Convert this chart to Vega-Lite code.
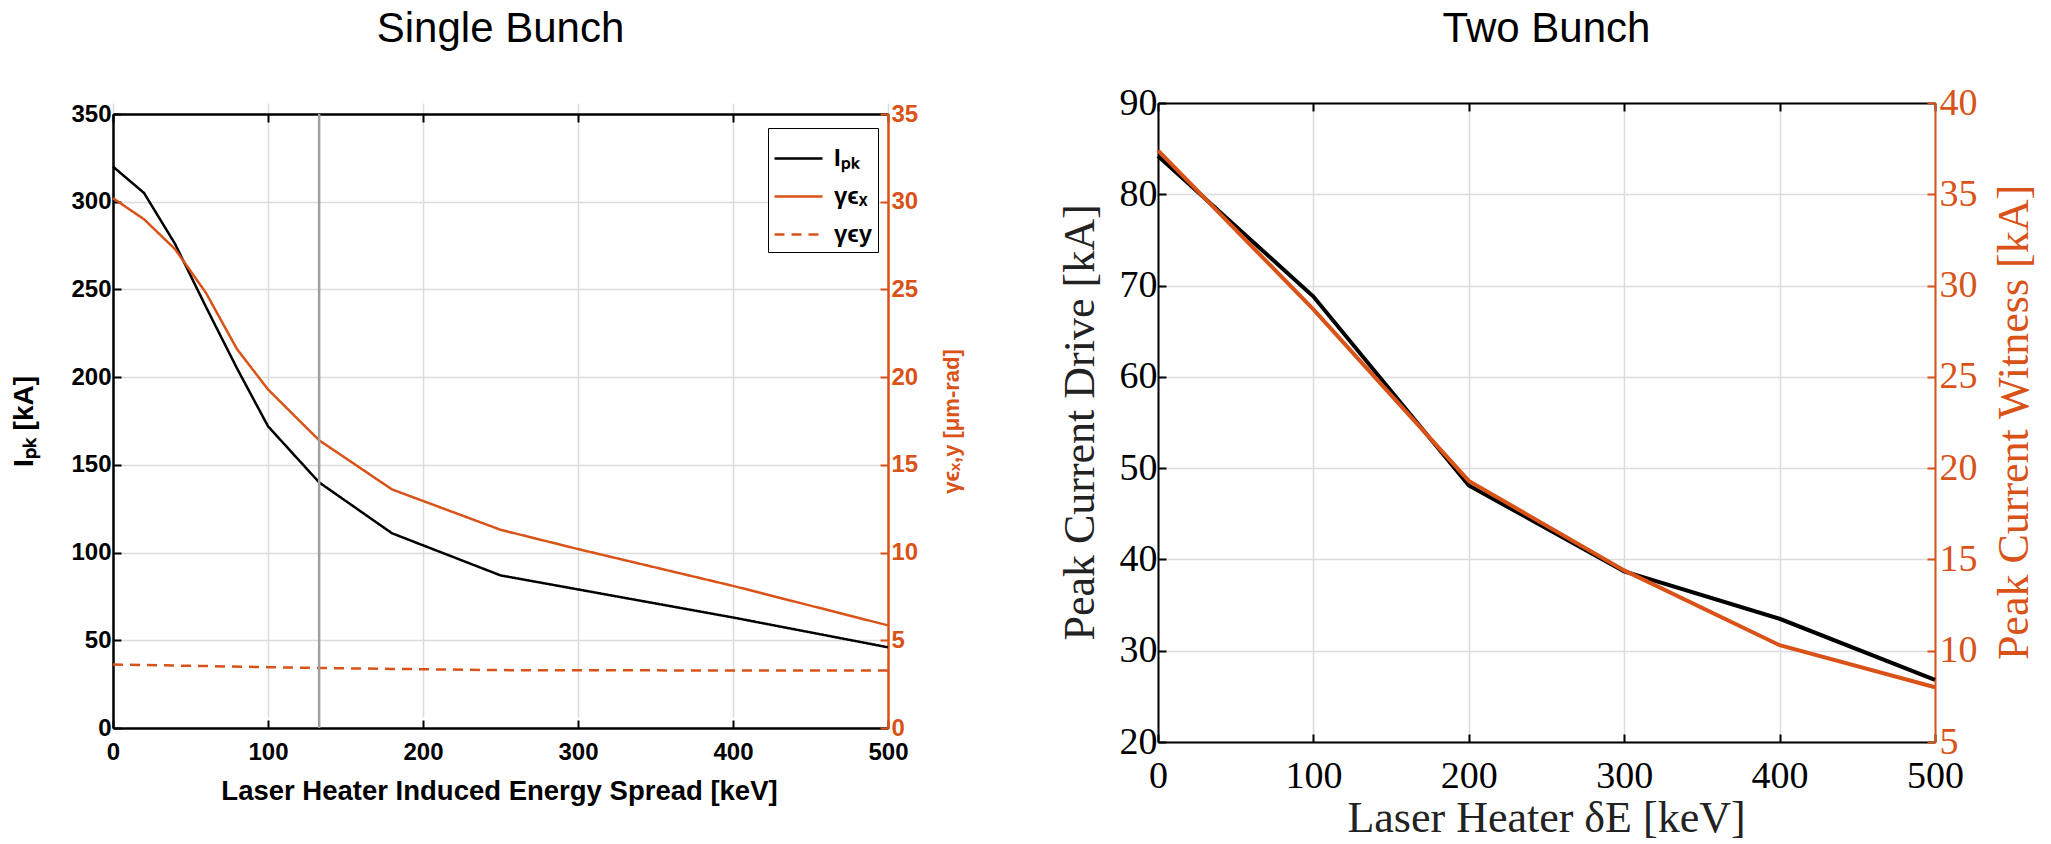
{
  "$schema": "https://vega.github.io/schema/vega-lite/v6.json",
  "background": "white",
  "padding": {"left": 10, "top": 8, "right": 5, "bottom": 5},
  "config": {
    "view": {"stroke": null},
    "legend": {"symbolType": "stroke", "symbolSize": 2304, "symbolStrokeWidth": 2.5,
      "labelFont": "Liberation Sans", "labelFontSize": 24, "labelFontWeight": "bold", "labelColor": "black",
      "strokeColor": "black", "fillColor": "white", "padding": 5, "rowPadding": -10, "labelOffset": 10, "cornerRadius": 0}
  },
  "resolve": {"legend": {"color": "independent", "strokeDash": "independent"}},
  "spacing": 96,
  "hconcat": [
    {
      "width": 775,
      "height": 625,
      "title": {"text": "Single Bunch", "font": "Liberation Sans", "fontSize": 42, "fontWeight": "normal", "color": "black", "offset": 51, "anchor": "middle"},
      "layer": [
        {
          "data": {"values": [
            {"keV": 0, "current": 320, "series": "Iₚₖ"},
            {"keV": 20, "current": 305, "series": "Iₚₖ"},
            {"keV": 40, "current": 276, "series": "Iₚₖ"},
            {"keV": 60, "current": 240, "series": "Iₚₖ"},
            {"keV": 80, "current": 205, "series": "Iₚₖ"},
            {"keV": 100, "current": 172, "series": "Iₚₖ"},
            {"keV": 133, "current": 140, "series": "Iₚₖ"},
            {"keV": 180, "current": 111, "series": "Iₚₖ"},
            {"keV": 250, "current": 87, "series": "Iₚₖ"},
            {"keV": 300, "current": 79, "series": "Iₚₖ"},
            {"keV": 400, "current": 63, "series": "Iₚₖ"},
            {"keV": 500, "current": 46, "series": "Iₚₖ"}
          ]},
          "mark": {"type": "line", "strokeWidth": 2.5},
          "encoding": {
            "x": {"field": "keV", "type": "quantitative", "scale": {"domain": [0, 500], "nice": false},
              "axis": {"orient": "bottom", "values": [0, 100, 200, 300, 400, 500], "grid": true, "gridColor": "#dcdcdc", "gridWidth": 1.5,
                "domainColor": "black", "domainWidth": 2.5, "tickColor": "black", "tickWidth": 2, "tickSize": -8, "labelPadding": 20,
                "labelFont": "Liberation Sans", "labelFontWeight": "bold", "labelFontSize": 24, "labelColor": "black", "labelFlush": false,
                "title": "Laser Heater Induced Energy Spread [keV]", "titleFont": "Liberation Sans", "titleFontWeight": "bold", "titleFontSize": 27.5, "titleColor": "black",
                "titleX": 386, "titleY": 71, "titleBaseline": "alphabetic", "titleAlign": "center"}},
            "y": {"field": "current", "type": "quantitative", "scale": {"domain": [0, 350], "nice": false, "range": [625, 11]},
              "axis": {"orient": "left", "values": [0, 50, 100, 150, 200, 250, 300, 350], "grid": true, "gridColor": "#dcdcdc", "gridWidth": 1.5,
                "domainColor": "black", "domainWidth": 2.5, "tickColor": "black", "tickWidth": 2, "tickSize": -8, "labelPadding": 10,
                "labelFont": "Liberation Sans", "labelFontWeight": "bold", "labelFontSize": 24, "labelColor": "black", "labelFlush": false,
                "title": "Iₚₖ [kA]", "titleFont": "Liberation Sans", "titleFontWeight": "bold", "titleFontSize": 28, "titleColor": "black",
                "titleX": -89, "titleY": 318, "titleAngle": -90, "titleBaseline": "middle", "titleAlign": "center"}},
            "color": {"field": "series", "type": "nominal", "scale": {"domain": ["Iₚₖ", "γϵₓ", "γϵy"], "range": ["#000000", "#D95319", "#D95319"]},
              "legend": {"title": null, "orient": "none", "legendX": 655, "legendY": 25}},
            "strokeDash": {"field": "series", "type": "nominal", "scale": {"domain": ["Iₚₖ", "γϵₓ", "γϵy"], "range": [[1, 0], [1, 0], [10, 7]]},
              "legend": {"title": null, "orient": "none", "legendX": 655, "legendY": 25}}
          }
        },
        {
          "data": {"values": [
            {"keV": 0, "emit": 30.2, "series": "γϵₓ"},
            {"keV": 20, "emit": 29.0, "series": "γϵₓ"},
            {"keV": 40, "emit": 27.3, "series": "γϵₓ"},
            {"keV": 60, "emit": 24.8, "series": "γϵₓ"},
            {"keV": 80, "emit": 21.6, "series": "γϵₓ"},
            {"keV": 100, "emit": 19.3, "series": "γϵₓ"},
            {"keV": 133, "emit": 16.4, "series": "γϵₓ"},
            {"keV": 180, "emit": 13.6, "series": "γϵₓ"},
            {"keV": 250, "emit": 11.3, "series": "γϵₓ"},
            {"keV": 300, "emit": 10.2, "series": "γϵₓ"},
            {"keV": 400, "emit": 8.1, "series": "γϵₓ"},
            {"keV": 500, "emit": 5.85, "series": "γϵₓ"},
            {"keV": 0, "emit": 3.62, "series": "γϵy"},
            {"keV": 100, "emit": 3.47, "series": "γϵy"},
            {"keV": 133, "emit": 3.42, "series": "γϵy"},
            {"keV": 180, "emit": 3.37, "series": "γϵy"},
            {"keV": 250, "emit": 3.3, "series": "γϵy"},
            {"keV": 300, "emit": 3.29, "series": "γϵy"},
            {"keV": 400, "emit": 3.28, "series": "γϵy"},
            {"keV": 500, "emit": 3.28, "series": "γϵy"}
          ]},
          "mark": {"type": "line", "strokeWidth": 2.5},
          "encoding": {
            "x": {"field": "keV", "type": "quantitative", "axis": null},
            "y": {"field": "emit", "type": "quantitative", "scale": {"domain": [0, 35], "nice": false, "range": [625, 11]},
              "axis": {"orient": "right", "values": [0, 5, 10, 15, 20, 25, 30, 35], "grid": false,
                "domainColor": "#D95319", "domainWidth": 2.5, "tickColor": "#D95319", "tickWidth": 2, "tickSize": -8, "labelPadding": 11,
                "labelFont": "Liberation Sans", "labelFontWeight": "bold", "labelFontSize": 24, "labelColor": "#D95319", "labelFlush": false,
                "title": "γϵₓ,y [μm-rad]", "titleFont": "Liberation Sans", "titleFontWeight": "bold", "titleFontSize": 22, "titleColor": "#D95319",
                "titleX": 63, "titleY": 318, "titleAngle": -90, "titleBaseline": "middle", "titleAlign": "center"}},
            "color": {"field": "series", "type": "nominal", "legend": {"title": null, "orient": "none", "legendX": 655, "legendY": 25}},
            "strokeDash": {"field": "series", "type": "nominal", "legend": {"title": null, "orient": "none", "legendX": 655, "legendY": 25}}
          }
        },
        {
          "data": {"values": [{"keV": 133, "lo": 0, "hi": 350}]},
          "mark": {"type": "rule", "color": "#a0a0a0", "strokeWidth": 2.5},
          "encoding": {
            "x": {"field": "keV", "type": "quantitative",
              "axis": {"orient": "top", "offset": -11, "values": [0, 100, 200, 300, 400, 500], "grid": false, "labels": false, "title": null,
                "domainColor": "black", "domainWidth": 2.5, "tickColor": "black", "tickWidth": 2, "tickSize": -8}},
            "y": {"field": "lo", "type": "quantitative", "scale": {"domain": [0, 350], "nice": false, "range": [625, 11]}, "axis": null},
            "y2": {"field": "hi"}
          }
        }
      ],
      "resolve": {"scale": {"y": "independent"}, "axis": {"x": "independent", "y": "independent"}}
    },
    {
      "width": 777,
      "height": 639,
      "title": {"text": "Two Bunch", "font": "Liberation Sans", "fontSize": 42, "fontWeight": "normal", "color": "black", "offset": 33, "anchor": "middle"},
      "layer": [
        {
          "data": {"values": [
            {"keV": 0, "drive": 84.2},
            {"keV": 100, "drive": 68.8},
            {"keV": 200, "drive": 48.1},
            {"keV": 300, "drive": 38.7},
            {"keV": 400, "drive": 33.5},
            {"keV": 500, "drive": 26.8}
          ]},
          "mark": {"type": "line", "strokeWidth": 4, "color": "#000000"},
          "encoding": {
            "x": {"field": "keV", "type": "quantitative", "scale": {"domain": [0, 500], "nice": false},
              "axis": {"orient": "bottom", "values": [0, 100, 200, 300, 400, 500], "grid": true, "gridColor": "#dcdcdc", "gridWidth": 1.5,
                "domainColor": "black", "domainWidth": 2, "tickColor": "black", "tickWidth": 2, "tickSize": -8, "labelPadding": 23,
                "labelFont": "Liberation Serif", "labelFontSize": 38, "labelColor": "black", "labelFlush": false,
                "title": "Laser Heater δE [keV]", "titleFont": "Liberation Serif", "titleFontWeight": "normal", "titleFontSize": 44, "titleColor": "#222222",
                "titleX": 388, "titleY": 89, "titleBaseline": "alphabetic", "titleAlign": "center"}},
            "y": {"field": "drive", "type": "quantitative", "scale": {"domain": [20, 90], "nice": false, "zero": false},
              "axis": {"orient": "left", "values": [20, 30, 40, 50, 60, 70, 80, 90], "grid": true, "gridColor": "#dcdcdc", "gridWidth": 1.5,
                "domainColor": "black", "domainWidth": 2, "tickColor": "black", "tickWidth": 2, "tickSize": -8, "labelPadding": 9,
                "labelFont": "Liberation Serif", "labelFontSize": 38, "labelColor": "black", "labelFlush": false,
                "title": "Peak Current Drive [kA]", "titleFont": "Liberation Serif", "titleFontWeight": "normal", "titleFontSize": 44, "titleColor": "#222222",
                "titleX": -78, "titleY": 319, "titleAngle": -90, "titleBaseline": "middle", "titleAlign": "center"}}
          }
        },
        {
          "data": {"values": [
            {"keV": 0, "witness": 37.4},
            {"keV": 100, "witness": 28.7},
            {"keV": 200, "witness": 19.3},
            {"keV": 300, "witness": 14.4},
            {"keV": 400, "witness": 10.3},
            {"keV": 500, "witness": 8.0}
          ]},
          "mark": {"type": "line", "strokeWidth": 4, "color": "#D95319"},
          "encoding": {
            "x": {"field": "keV", "type": "quantitative",
              "axis": {"orient": "top", "values": [0, 100, 200, 300, 400, 500], "grid": false, "labels": false, "title": null,
                "domainColor": "black", "domainWidth": 2, "tickColor": "black", "tickWidth": 2, "tickSize": -8}},
            "y": {"field": "witness", "type": "quantitative", "scale": {"domain": [5, 40], "nice": false, "zero": false},
              "axis": {"orient": "right", "values": [5, 10, 15, 20, 25, 30, 35, 40], "grid": false,
                "domainColor": "#D95319", "domainWidth": 2, "tickColor": "#D95319", "tickWidth": 2, "tickSize": -8, "labelPadding": 12,
                "labelFont": "Liberation Serif", "labelFontSize": 38, "labelColor": "#D95319", "labelFlush": false,
                "title": "Peak Current Witness [kA]", "titleFont": "Liberation Serif", "titleFontWeight": "normal", "titleFontSize": 44, "titleColor": "#D95319",
                "titleX": 79, "titleY": 319, "titleAngle": -90, "titleBaseline": "middle", "titleAlign": "center"}}
          }
        }
      ],
      "resolve": {"scale": {"y": "independent"}, "axis": {"x": "independent", "y": "independent"}}
    }
  ]
}
